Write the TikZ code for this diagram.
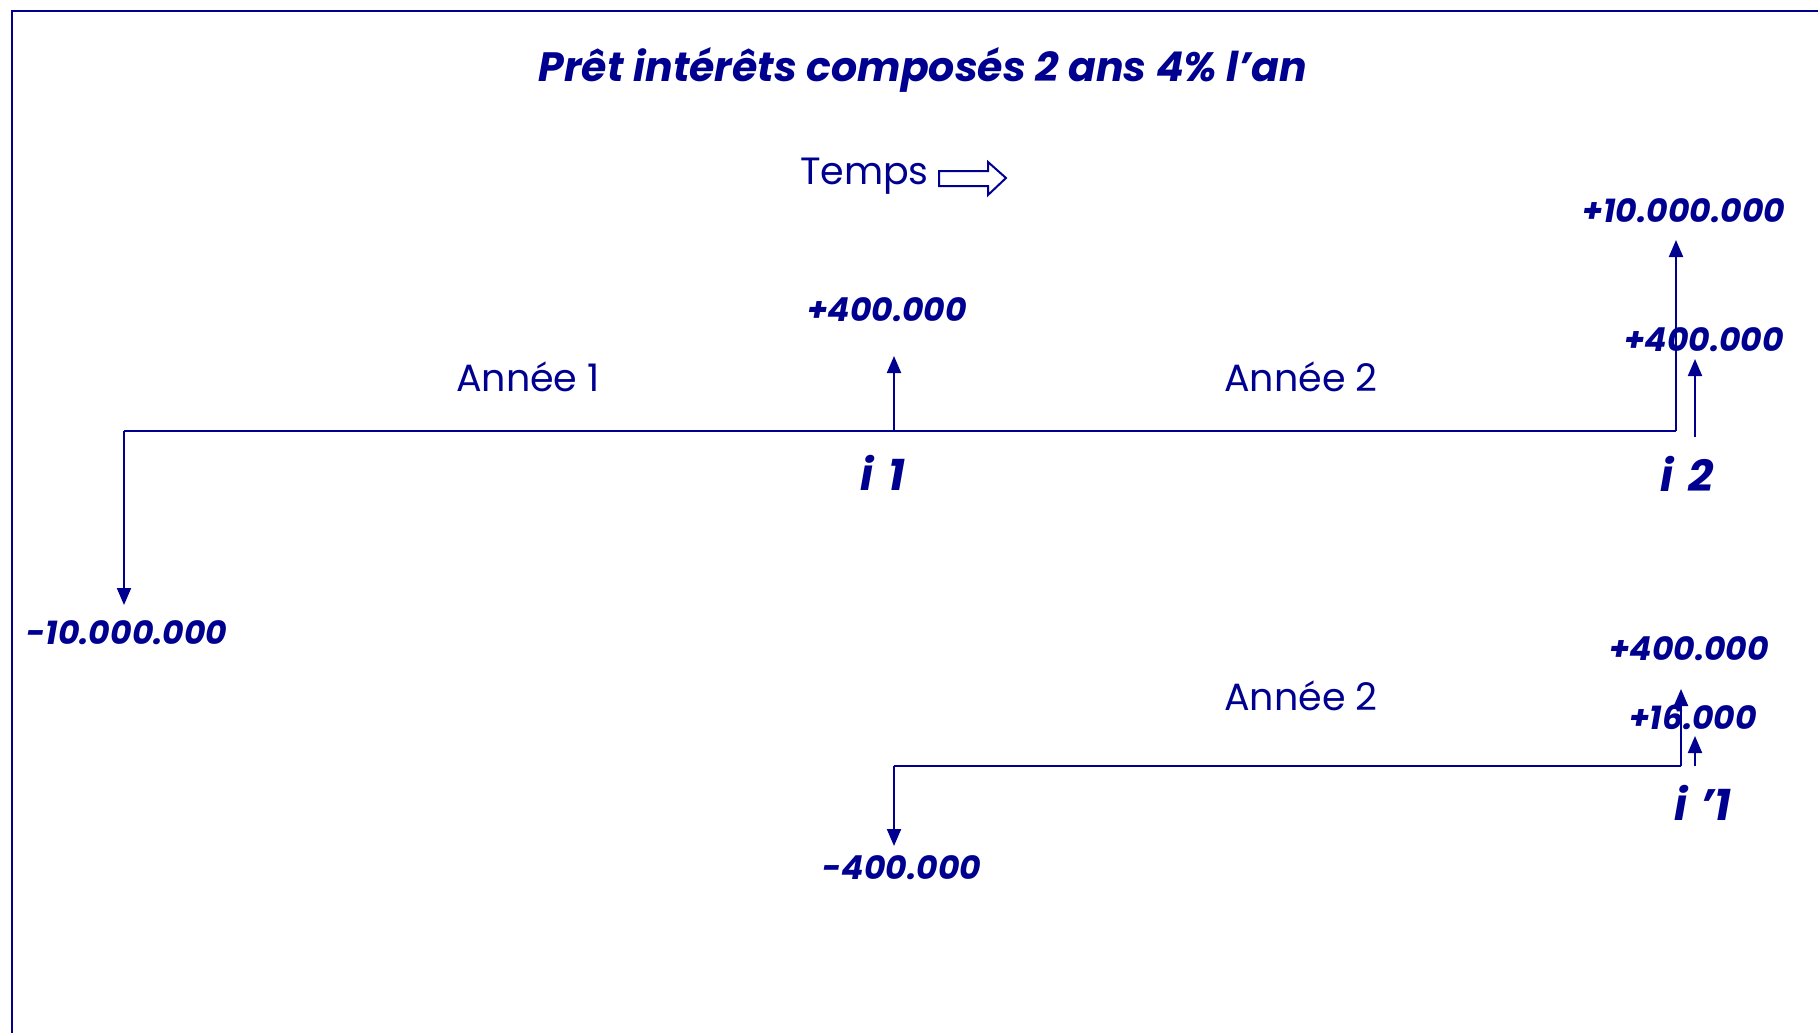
\documentclass[tikz,border=0pt]{standalone}
\usepackage{fontspec}
\setmainfont{Poppins}
\usetikzlibrary{arrows.meta}
\definecolor{navy}{HTML}{000090}
\begin{document}
\begin{tikzpicture}[x=1pt,y=-1pt,
  line/.style={draw=navy,line width=2pt},
  arr/.style={line,-{Triangle[length=17pt,width=14pt]}},
  num/.style={text=navy,font=\fontsize{33}{36}\selectfont\bfseries\itshape,inner sep=0pt},
  ilab/.style={text=navy,font=\fontsize{44}{48}\selectfont\bfseries\itshape,inner sep=0pt},
  year/.style={text=navy,font=\fontsize{38}{42}\selectfont,inner sep=0pt}]
\useasboundingbox (0,0) rectangle (1818,1033);
\draw[navy,line width=2pt] (1818,11) -- (12,11) -- (12,1033);
% title
\node[text=navy,font=\fontsize{41}{46}\selectfont\bfseries\itshape,inner sep=0pt] (title) at (923,70) {Prêt intérêts composés 2 ans 4\% l’an};
\node[year,anchor=east] (temps) at (929,176) {Temps};
\draw[navy,line width=2pt,fill=white] (939,171) -- (988,171) -- (988,162) -- (1006,178) -- (988,195) -- (988,186) -- (939,186) -- cycle;
% main timeline
\coordinate (s0) at (124,431);
\coordinate (m1) at (894,431);
\coordinate (e1) at (1676,431);
\draw[line] (s0) -- (e1);
\node[num] (n10m) at (127,633) {-10.000.000};
\draw[arr] (s0) -- (124,605) coordinate (d0);
\node[num] (p400a) at (887,310) {+400.000};
\draw[arr] (m1) -- (894,356);
\node[ilab] (i1) at (883,473) {i\hspace{0.35em}1};
\node[year] (a1) at (528,377) {Année 1};
\node[year] (a2) at (1301,377) {Année 2};
\node[num] (p10m) at (1684,211) {+10.000.000};
\draw[arr] (e1) -- (1676,240);
\node[num] (p400b) at (1704,340) {+400.000};
\coordinate (b2) at (1695,437);
\draw[arr] (b2) -- (1695,359);
\node[ilab] (i2) at (1687,474) {i\hspace{0.35em}2};
% second timeline
\coordinate (s1) at (894,766);
\coordinate (e2) at (1681,766);
\draw[line] (s1) -- (e2);
\draw[arr] (s1) -- (894,846);
\node[num] (m400) at (902,868) {-400.000};
\node[year] (a2b) at (1301,696) {Année 2};
\draw[arr] (e2) -- (1681,689);
\node[num] (p400c) at (1689,649) {+400.000};
\node[num] (p16) at (1693,717) {+16.000};
\coordinate (b3) at (1695,766);
\draw[arr] (b3) -- (1695,736);
\node[ilab] (i3) at (1703,803) {i\hspace{0.3em}’1};
\end{tikzpicture}
\end{document}
